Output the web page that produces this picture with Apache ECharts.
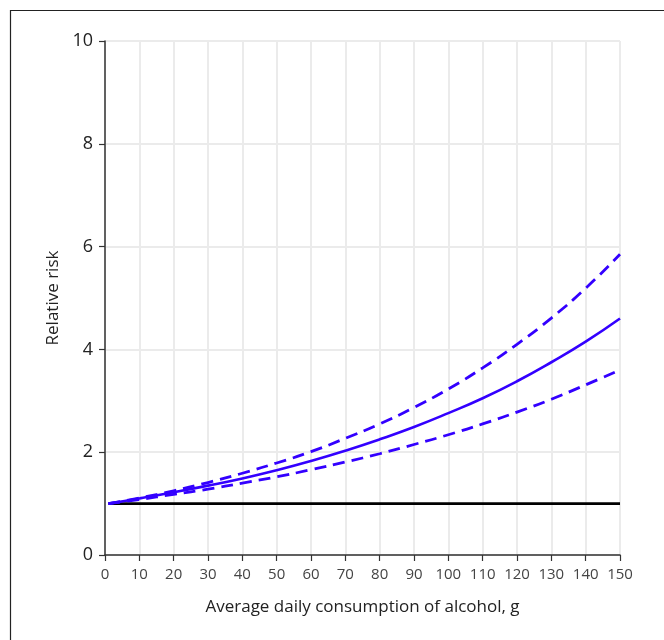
<!DOCTYPE html>
<html><head><meta charset="utf-8">
<script src="https://cdn.jsdelivr.net/npm/echarts@6/dist/echarts.min.js"></script>
<style>html,body{margin:0;padding:0;background:#fff}#c{width:664px;height:640px}</style>
</head><body><div id="c"></div>
<script>
const xValues = [1, 10, 20, 30, 40, 50, 60, 70, 80, 90, 100, 110, 120, 130, 140, 150];
const riskMain = [1.00, 1.10, 1.22, 1.35, 1.49, 1.65, 1.83, 2.03, 2.25, 2.49, 2.76, 3.05, 3.38, 3.75, 4.15, 4.60];
const riskUpper = [1.00, 1.11, 1.25, 1.41, 1.59, 1.79, 2.01, 2.27, 2.55, 2.87, 3.23, 3.64, 4.10, 4.61, 5.19, 5.85];
const riskLower = [1.00, 1.08, 1.18, 1.28, 1.40, 1.52, 1.66, 1.81, 1.97, 2.15, 2.34, 2.55, 2.78, 3.03, 3.31, 3.60];
const baseline = [1, 1];
const baselineX = [1, 150];

const pairs = (xs, ys) => xs.map((x, i) => [x, ys[i]]);
const blue = '#3300ff';
const font = '"Open Sans", "Noto Sans", sans-serif';

const chart = echarts.init(document.getElementById('c'));
chart.setOption({
  animation: false,
  backgroundColor: '#fff',
  graphic: [{
    type: 'rect', left: 8, top: 8,
    shape: { width: 800, height: 800 },
    style: { fill: 'none', stroke: '#222', lineWidth: 1.2 },
    silent: true
  }],
  grid: { left: 105, right: 44, top: 41, bottom: 85 },
  xAxis: {
    type: 'value', min: 0, max: 150, interval: 10,
    name: 'Average daily consumption of alcohol, g',
    nameLocation: 'middle', nameGap: 44,
    nameTextStyle: { fontFamily: font, fontSize: 17, color: '#222' },
    axisLine: { lineStyle: { color: '#333', width: 1.5 } },
    axisTick: { show: true, length: 6, lineStyle: { color: '#333', width: 1.2 } },
    axisLabel: { fontFamily: font, fontSize: 15, color: '#444', margin: 12 },
    splitLine: { show: true, lineStyle: { color: '#ebebeb', width: 2 } }
  },
  yAxis: {
    type: 'value', min: 0, max: 10, interval: 2,
    name: 'Relative risk',
    nameLocation: 'middle', nameGap: 40, nameRotate: 90,
    nameTextStyle: { fontFamily: font, fontSize: 17, color: '#222' },
    axisLine: { show: true, lineStyle: { color: '#333', width: 1.5 } },
    axisTick: { show: true, length: 6, lineStyle: { color: '#333', width: 1.2 } },
    axisLabel: { fontFamily: font, fontSize: 18, color: '#222', margin: 12 },
    splitLine: { show: true, lineStyle: { color: '#ebebeb', width: 2 } }
  },
  series: [
    { type: 'line', data: pairs(baselineX, baseline), symbol: 'none',
      lineStyle: { color: '#000', width: 2.8 }, z: 3 },
    { type: 'line', data: pairs(xValues, riskUpper), symbol: 'none', smooth: true,
      lineStyle: { color: blue, width: 2.8, type: [12, 7] } },
    { type: 'line', data: pairs(xValues, riskLower), symbol: 'none', smooth: true,
      lineStyle: { color: blue, width: 2.8, type: [12, 7] } },
    { type: 'line', data: pairs(xValues, riskMain), symbol: 'none', smooth: true,
      lineStyle: { color: blue, width: 2.6 } }
  ]
});
</script></body></html>
